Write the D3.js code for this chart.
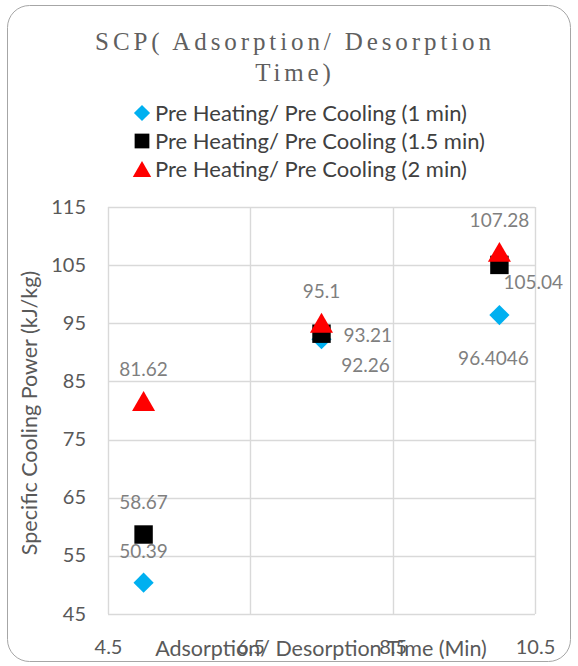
<!DOCTYPE html>
<html>
<head>
<meta charset="utf-8">
<script src="https://cdn.jsdelivr.net/npm/d3@7/dist/d3.min.js"></script>
<style>
  html, body { margin: 0; padding: 0; background: #ffffff; }
  svg { display: block; }
</style>
</head>
<body>
<svg id="chart" width="578" height="666"></svg>
<script>
// Adsorption/desorption cycle time (min) on the x axis
const cycleTimes = [5, 7.5, 10];

// Specific cooling power (kJ/kg) for each pre heating / pre cooling duration
const scp1min = [50.39, 92.26, 96.4046];
const scp15min = [58.67, 93.21, 105.04];
const scp2min = [81.62, 95.1, 107.28];

const seriesNames = [
  "Pre Heating/ Pre Cooling (1 min)",
  "Pre Heating/ Pre Cooling (1.5 min)",
  "Pre Heating/ Pre Cooling (2 min)"
];

const xTicks = [4.5, 6.5, 8.5, 10.5];
const yTicks = [45, 55, 65, 75, 85, 95, 105, 115];

// Where each value label sits relative to its marker
const labelPlacement1 = ["top", "belowRight", "below"];
const labelPlacement15 = ["top", "right", "rightLow"];
const labelPlacement2 = ["top", "top", "top"];

const svg = d3.select("#chart");

const font = "Lato, 'Open Sans', sans-serif";

// Outer chart frame
svg.append("rect")
  .attr("x", 7.5).attr("y", 5.5)
  .attr("width", 563).attr("height", 656)
  .attr("rx", 22).attr("ry", 22)
  .attr("fill", "#ffffff")
  .attr("stroke", "#a6a6a6")
  .attr("stroke-width", 1);

const x = d3.scaleLinear().domain([4.5, 10.5]).range([108, 535]);
const y = d3.scaleLinear().domain([45, 115]).range([614, 207]);

// Gridlines
const grid = svg.append("g");
grid.selectAll("line.v").data(xTicks).join("line")
  .attr("x1", d => Math.round(x(d)) + 0.5).attr("x2", d => Math.round(x(d)) + 0.5)
  .attr("y1", y(115)).attr("y2", y(45))
  .attr("stroke", "#d9d9d9").attr("stroke-width", 1.4);
grid.selectAll("line.h").data(yTicks).join("line")
  .attr("y1", d => Math.round(y(d)) + 0.5).attr("y2", d => Math.round(y(d)) + 0.5)
  .attr("x1", x(4.5)).attr("x2", x(10.5))
  .attr("stroke", "#d9d9d9").attr("stroke-width", 1.4);

// Axes (labels only, lines drawn by the grid)
const xAxis = d3.axisBottom(x).tickValues(xTicks).tickSize(0).tickPadding(0)
  .tickFormat(d3.format(".1f"));
const gx = svg.append("g").attr("transform", "translate(0,640)").call(xAxis);
gx.select(".domain").remove();
gx.selectAll("text")
  .attr("font-family", font).attr("font-size", 20).attr("fill", "#595959")
  .attr("dy", "0.71em");

const yAxis = d3.axisLeft(y).tickValues(yTicks).tickSize(0).tickPadding(0);
const gy = svg.append("g").attr("transform", "translate(86,0)").call(yAxis);
gy.select(".domain").remove();
gy.selectAll("text")
  .attr("font-family", font).attr("font-size", 20).attr("fill", "#595959")
  .attr("dy", "0.3em");

// Axis titles
svg.append("text")
  .attr("x", 321).attr("y", 656)
  .attr("text-anchor", "middle")
  .attr("font-family", font).attr("font-size", 21.5).attr("fill", "#595959")
  .text("Adsorption/ Desorption Time (Min)");

svg.append("text")
  .attr("transform", "translate(37,413) rotate(-90)")
  .attr("text-anchor", "middle")
  .attr("font-family", font).attr("font-size", 21.5).attr("fill", "#595959")
  .text("Specific Cooling Power (kJ/kg)");

// Title
const title = svg.append("text")
  .attr("text-anchor", "middle")
  .attr("font-family", "'Liberation Serif', 'DejaVu Serif', serif")
  .attr("font-size", 25)
  .attr("letter-spacing", "3.9px")
  .attr("fill", "#5f5f5f");
title.append("tspan").attr("x", 295).attr("y", 50).text("SCP( Adsorption/ Desorption");
title.append("tspan").attr("x", 295).attr("y", 81).text("Time)");

// Marker shapes
const symbols = [
  { shape: d3.symbolDiamond2, fill: "#00b0f0", size: 260, shift: 0 },
  { shape: d3.symbolSquare, fill: "#000000", size: 340, shift: 0 },
  { shape: d3.symbolTriangle, fill: "#ff0000", size: 230, shift: 3.3 }
];

function markerPath(i) {
  const s = symbols[i];
  return d3.symbol().type(s.shape).size(s.size)();
}

// Legend
const legendY = [113, 141, 169];
const legendScale = [0.8, 0.8, 0.8];
seriesNames.forEach((name, i) => {
  const g = svg.append("g").attr("transform", `translate(142,${legendY[i]})`);
  g.append("path").attr("d", markerPath(i)).attr("fill", symbols[i].fill)
    .attr("transform", `translate(0,${symbols[i].shift * legendScale[i]}) scale(${legendScale[i]})`);
  svg.append("text")
    .attr("x", 155).attr("y", legendY[i]).attr("dy", "0.36em")
    .attr("font-family", font).attr("font-size", 22).attr("fill", "#404040")
    .text(name);
});

// Label offsets for each placement keyword
const offsets = {
  top: { dx: 0, dy: -32, anchor: "middle" },
  right: { dx: 22, dy: 1, anchor: "start" },
  rightLow: { dx: 4, dy: 17, anchor: "start" },
  below: { dx: -6, dy: 43, anchor: "middle" },
  belowRight: { dx: 44, dy: 26, anchor: "middle" }
};

const allSeries = [
  { values: scp1min, place: labelPlacement1 },
  { values: scp15min, place: labelPlacement15 },
  { values: scp2min, place: labelPlacement2 }
];

// Points, drawn in series order so later series sit on top
allSeries.forEach((s, i) => {
  svg.append("g").selectAll("path")
    .data(s.values.map((v, j) => ({ x: cycleTimes[j], y: v })))
    .join("path")
    .attr("d", markerPath(i))
    .attr("fill", symbols[i].fill)
    .attr("transform", d => `translate(${x(d.x)},${y(d.y) + symbols[i].shift})`);
});

// Value labels
allSeries.forEach((s, i) => {
  svg.append("g").selectAll("text")
    .data(s.values.map((v, j) => ({ x: cycleTimes[j], y: v, p: offsets[s.place[j]] })))
    .join("text")
    .attr("x", d => x(d.x) + d.p.dx)
    .attr("y", d => y(d.y) + d.p.dy)
    .attr("dy", "0.36em")
    .attr("text-anchor", d => d.p.anchor)
    .attr("font-family", font).attr("font-size", 19).attr("fill", "#7f7f7f")
    .text(d => d.y);
});
</script>
</body>
</html>
